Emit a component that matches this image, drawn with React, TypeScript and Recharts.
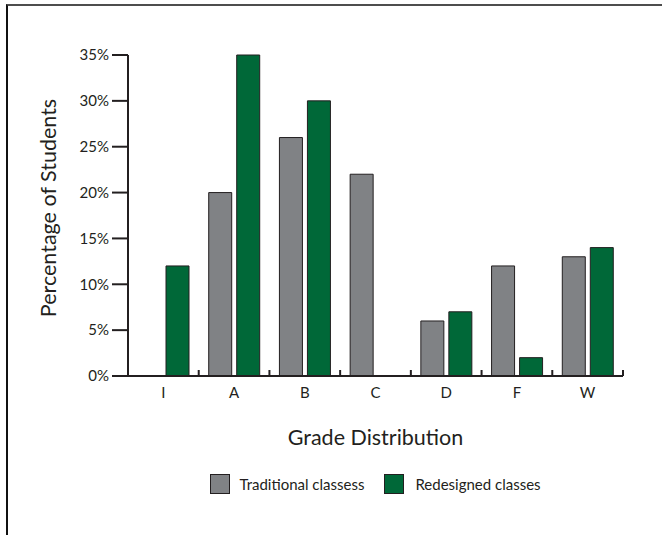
import React from 'react'
import { BarChart, Bar, XAxis, YAxis, Legend } from 'recharts'

const grades = ['I', 'A', 'B', 'C', 'D', 'F', 'W']
const traditional = [0, 20, 26, 22, 6, 12, 13]
const redesigned = [12, 35, 30, 0, 7, 2, 14]
const yTicks = [0, 5, 10, 15, 20, 25, 30, 35]

const data = grades.map((grade, i) => ({
  grade,
  traditional: traditional[i],
  redesigned: redesigned[i],
}))

const INK = '#231f20'
const GRAY = '#808285'
const GREEN = '#006838'
const FONT = 'Lato, "Open Sans", sans-serif'

const W = 662
const H = 535

const GradeTick = (props: any) => {
  const { x, y, payload } = props
  const half = payload?.offset ?? 495 / 14
  return (
    <g>
      <text x={x} y={y} dy="0.35em" textAnchor="middle" fill={INK} fontSize={15} fontFamily={FONT}>
        {payload.value}
      </text>
      <line x1={x + half} x2={x + half} y1={y - 17} y2={y - 23} stroke={INK} strokeWidth={2} />
    </g>
  )
}

const LegendBox = () => (
  <div
    style={{
      display: 'flex',
      justifyContent: 'center',
      alignItems: 'center',
      fontFamily: FONT,
      fontSize: 15,
      color: INK,
    }}
  >
    <span style={{ width: 20, height: 20, background: GRAY, border: `1px solid ${INK}`, boxSizing: 'border-box' }} />
    <span style={{ marginLeft: 9, marginRight: 20 }}>Traditional classess</span>
    <span style={{ width: 20, height: 20, background: GREEN, border: `1px solid ${INK}`, boxSizing: 'border-box' }} />
    <span style={{ marginLeft: 11 }}>Redesigned classes</span>
  </div>
)

export default function App() {
  return (
    <div style={{ position: 'absolute', left: 0, top: 0, width: W, height: H, background: '#fff' }}>
      <div
        style={{
          position: 'absolute',
          left: 6,
          top: 4,
          right: 0,
          bottom: 0,
          borderTop: '2px solid #4d4d4d',
          borderLeft: '2px solid #111',
        }}
      />
      <BarChart
        width={W}
        height={H}
        data={data}
        margin={{ top: 55, right: 39, left: 0, bottom: 99 }}
        barSize={23}
        barGap={5}
        style={{ position: 'absolute', left: 0, top: 0 }}
      >
        <XAxis
          dataKey="grade"
          height={60}
          tickLine={false}
          tickSize={0}
          tickMargin={17}
          axisLine={{ stroke: INK, strokeWidth: 2 }}
          tick={<GradeTick />}
          interval={0}
          label={{
            content: (p: any) => {
              const vb = p.viewBox || { x: 128, y: 376, width: 495 }
              return (
                <text
                  x={vb.x + vb.width / 2}
                  y={vb.y + 61}
                  dy="0.35em"
                  textAnchor="middle"
                  fill={INK}
                  fontSize={21.5}
                  fontFamily={FONT}
                >
                  Grade Distribution
                </text>
              )
            },
          }}
        />
        <YAxis
          width={128}
          domain={[0, 35]}
          ticks={yTicks}
          interval={0}
          tickFormatter={(v: number) => `${v}%`}
          tickSize={16}
          tickMargin={3}
          tick={{ fill: INK, fontSize: 15, fontFamily: FONT }}
          tickLine={{ stroke: INK, strokeWidth: 2 }}
          axisLine={{ stroke: INK, strokeWidth: 2 }}
          label={{
            content: () => {
              const cx = 48
              const cy = 208
              return (
                <text
                  x={cx}
                  y={cy}
                  transform={`rotate(-90 ${cx} ${cy})`}
                  dy="0.35em"
                  textAnchor="middle"
                  fill={INK}
                  fontSize={21.5}
                  fontFamily={FONT}
                >
                  Percentage of Students
                </text>
              )
            },
          }}
        />
        <Legend
          layout="horizontal"
          verticalAlign="middle"
          align="center"
          content={<LegendBox />}
          wrapperStyle={{ top: 474, left: 128, width: 495 }}
        />
        <Bar dataKey="traditional" name="Traditional classess" fill={GRAY} stroke={INK} strokeWidth={1} isAnimationActive={false} />
        <Bar dataKey="redesigned" name="Redesigned classes" fill={GREEN} stroke={INK} strokeWidth={1} isAnimationActive={false} />
      </BarChart>
    </div>
  )
}
